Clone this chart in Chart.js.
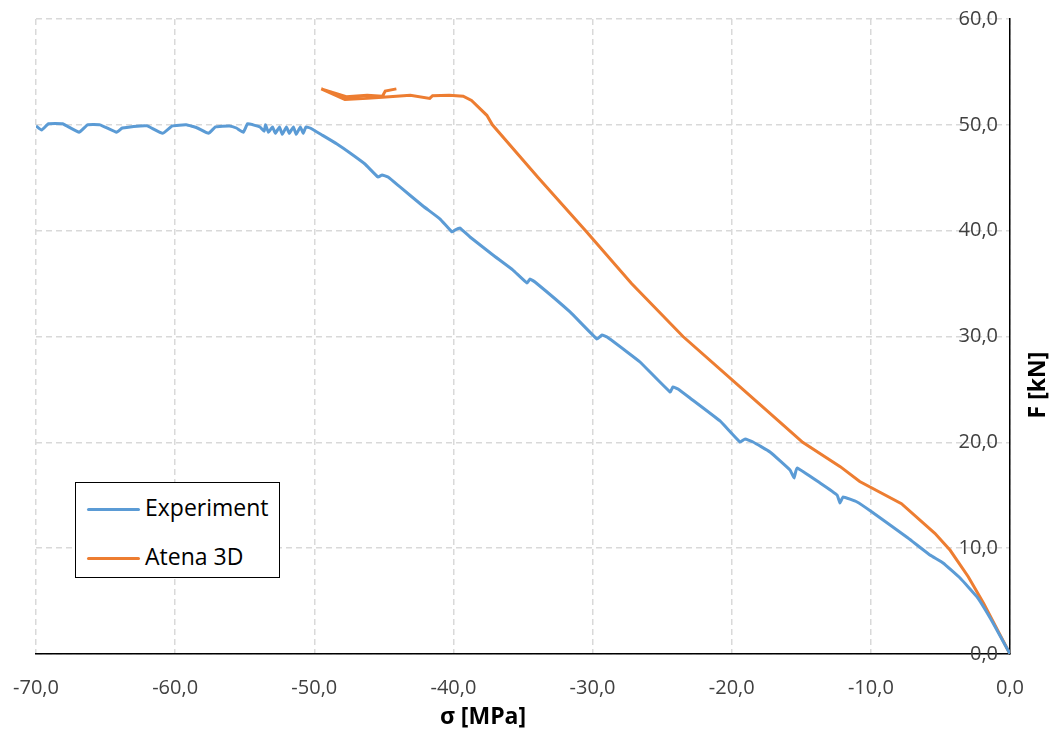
<!DOCTYPE html>
<html>
<head>
<meta charset="utf-8">
<script src="https://cdn.jsdelivr.net/npm/chart.js@4/dist/chart.umd.min.js"></script>
<style>
    body { margin: 0; background: #fff; }
    #wrap { position: relative; width: 1060px; height: 733px; }
    #legend {
        position: absolute; left: 75px; top: 482px; width: 203px; height: 94px;
        border: 1.5px solid #000; background: #fff;
        font-family: "Open Sans", sans-serif; font-size: 23px; color: #000;
    }
    #legend .item { position: absolute; left: 11px; height: 30px; line-height: 30px; white-space: nowrap; }
    #legend .swatch { display: inline-block; width: 53px; height: 3px; vertical-align: middle; margin-right: 5px; border-radius: 2px; }
</style>
</head>
<body>
<div id="wrap">
    <canvas id="chart" width="1060" height="733"></canvas>
    <div id="legend"></div>
</div>
<script>
// axis ticks
var xTicks = [ -70, -60, -50, -40, -30, -20, -10, 0 ];
var yTicks = [ 0, 10, 20, 30, 40, 50, 60 ];

// Experiment (sigma [MPa], F [kN])
var expX = [ -70.0, -69.6, -69.1, -68.1, -66.9, -66.3, -65.4, -64.2, -63.8, -62.5, -62.0, -60.9, -60.2, -59.2, -58.4, -57.6,
    -57.1, -56.1, -55.6, -55.1, -54.8, -54.4, -53.9, -53.6, -53.5, -53.3, -53.0, -52.8, -52.5, -52.3, -52.0, -51.8, -51.5,
    -51.3, -51.0, -50.8, -50.6, -50.3, -49.45, -48.37, -47.43, -46.36, -45.42, -45.13, -44.7, -43.84, -42.19, -40.96,
    -40.1, -39.89, -39.53, -38.81, -37.16, -35.72, -34.71, -34.5, -34.14, -31.62, -29.68, -29.32, -28.96, -27.52, -26.59,
    -24.43, -24.22, -23.86, -23.0, -20.84, -19.4, -19.04, -18.47, -17.25, -15.81, -15.52, -15.31, -13.65, -12.43, -12.22,
    -12.0, -10.99, -9.92, -8.62, -7.33, -5.75, -4.81, -3.59, -2.37, -1.22, 0 ];
var expY = [ 49.9, 49.5, 50.1, 50.1, 49.3, 50.0, 50.0, 49.3, 49.7, 49.9, 49.9, 49.2, 49.9, 50.0, 49.7, 49.2,
    49.8, 49.9, 49.7, 49.3, 50.1, 50.0, 49.8, 49.4, 50.0, 49.3, 49.8, 49.2, 49.8, 49.1, 49.8, 49.2, 49.8,
    49.1, 49.8, 49.2, 49.8, 49.7, 49.04, 48.19, 47.34, 46.3, 45.07, 45.26, 45.07, 44.13, 42.33, 41.1,
    39.88, 40.06, 40.25, 39.4, 37.7, 36.28, 35.06, 35.43, 35.15, 32.32, 29.76, 30.14, 29.95, 28.54, 27.59,
    24.76, 25.23, 25.04, 24.19, 22.02, 20.03, 20.32, 20.03, 19.09, 17.39, 16.63, 17.58, 16.16, 15.02, 14.27,
    14.84, 14.36, 13.42, 12.19, 10.96, 9.35, 8.6, 7.18, 5.39, 2.93, 0 ];

// Atena 3D
var atenaX = [ 0, -1.9, -3.0, -4.3, -5.4, -7.8, -10.8, -12.2, -14.9, -16.7, -19.2, -23.5, -27.2, -30.5, -33.9, -37.2,
    -37.6, -38.7, -39.3, -40.3, -41.5, -41.7, -43.1, -45.1, -46.2, -47.8, -49.5, -47.7, -46.2, -45.1, -44.9, -44.1 ];
var atenaY = [ 0, 4.8, 7.3, 9.8, 11.4, 14.2, 16.3, 17.7, 20.0, 22.1, 25.0, 30.0, 35.0, 40.0, 45.0, 50.0,
    50.9, 52.3, 52.7, 52.8, 52.75, 52.5, 52.8, 52.6, 52.5, 52.4, 53.4, 52.65, 52.8, 52.7, 53.2, 53.4 ];

var seriesNames = [ 'Experiment', 'Atena 3D' ];
var seriesColors = [ '#5b9bd5', '#ed7d31' ];
var xTitle = 'σ [MPa]';
var yTitle = 'F [kN]';

var pairs = function ( xs, ys ) {
    var out = [];
    for ( var i = 0; i < xs.length; i++ ) {
        out.push( { x: xs[ i ], y: ys[ i ] } );
    }
    return out;
};

var fmt = function ( v ) {
    return v.toFixed( 1 ).replace( '.', ',' );
};

var borderOpts = { display: true, color: '#000', width: 1.5, dash: [ 6, 4 ] };

// axis titles drawn by hand (right title reads bottom to top)
var titles = {
    id: 'titles',
    afterDraw: function ( chart ) {
        var ctx = chart.ctx;
        var area = chart.chartArea;
        ctx.save();
        ctx.fillStyle = '#000';
        ctx.font = 'bold 23px "Open Sans"';
        ctx.textAlign = 'center';
        ctx.textBaseline = 'middle';
        ctx.fillText( xTitle, area.left + 447, area.bottom + 63 );
        ctx.translate( area.right + 28, area.top + 366 );
        ctx.rotate( -Math.PI / 2 );
        ctx.fillText( yTitle, 0, 0 );
        ctx.restore();
    }
};

new Chart( document.getElementById( 'chart' ), {
    type: 'scatter',
    data: {
        datasets: [ {
            label: seriesNames[ 0 ],
            data: pairs( expX, expY ),
            showLine: true,
            borderColor: seriesColors[ 0 ],
            borderWidth: 3,
            pointRadius: 0,
            tension: 0.1
        }, {
            label: seriesNames[ 1 ],
            data: pairs( atenaX, atenaY ),
            showLine: true,
            borderColor: seriesColors[ 1 ],
            borderWidth: 3,
            pointRadius: 0,
            tension: 0
        } ]
    },
    options: {
        responsive: false,
        animation: false,
        layout: { autoPadding: false, padding: { left: 36, top: 19, right: 0, bottom: 0 } },
        plugins: { legend: { display: false }, tooltip: { enabled: false } },
        scales: {
            x: {
                type: 'linear',
                min: xTicks[ 0 ],
                max: xTicks[ xTicks.length - 1 ],
                afterBuildTicks: function ( scale ) {
                    scale.ticks = xTicks.map( function ( v ) { return { value: v }; } );
                },
                afterFit: function ( scale ) { scale.height = 79; },
                // invisible tick marks push the labels down without widening the side padding
                grid: { color: '#d9d9d9', lineWidth: 1.5, drawTicks: true, tickLength: 20, tickColor: 'rgba(0,0,0,0)' },
                border: borderOpts,
                ticks: {
                    padding: 2,
                    color: '#404040',
                    font: { family: 'Open Sans', size: 20 },
                    maxRotation: 0,
                    callback: fmt
                }
            },
            y: {
                type: 'linear',
                position: 'right',
                min: yTicks[ 0 ],
                max: yTicks[ yTicks.length - 1 ],
                afterBuildTicks: function ( scale ) {
                    scale.ticks = yTicks.map( function ( v ) { return { value: v }; } );
                },
                afterFit: function ( scale ) { scale.width = 50; },
                grid: { color: '#d9d9d9', lineWidth: 1.5, drawTicks: false },
                border: borderOpts,
                ticks: {
                    mirror: true,
                    padding: -12,
                    color: '#404040',
                    font: { family: 'Open Sans', size: 20 },
                    callback: fmt
                }
            }
        }
    },
    plugins: [ titles ]
} );

// legend box
var legend = document.getElementById( 'legend' );
var tops = [ 9, 58 ];
seriesNames.forEach( function ( name, i ) {
    var item = document.createElement( 'div' );
    item.className = 'item';
    item.style.top = tops[ i ] + 'px';
    item.innerHTML = '<span class="swatch" style="background:' + seriesColors[ i ] + '"></span>' + name;
    legend.appendChild( item );
} );
</script>
</body>
</html>
